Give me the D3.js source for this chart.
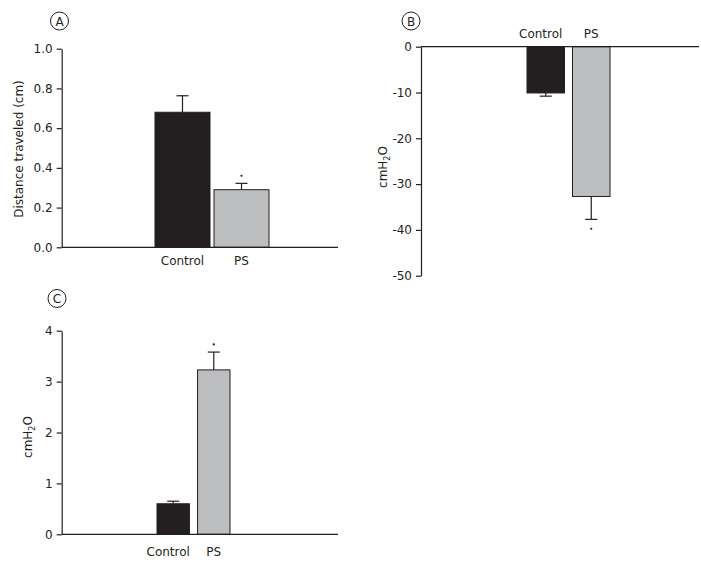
<!DOCTYPE html>
<html><head><meta charset="utf-8">
<script src="https://cdn.jsdelivr.net/npm/d3@7"></script>
<style>
html,body{margin:0;padding:0;background:#fff;}
svg{display:block;font-family:"DejaVu Sans",sans-serif;}
</style></head>
<body>
<svg id="chart" width="701" height="563"></svg>
<script>
// ---- data ----
const categories = ["Control", "PS"];
const distanceMeans = [0.68, 0.29];
const distanceErrors = [0.083, 0.032];
const pressureBMeans = [-10.1, -32.7];
const pressureBErrors = [0.7, 5.0];
const pressureCMeans = [0.6, 3.23];
const pressureCErrors = [0.05, 0.35];
const significant = [false, true];
const ticksA = [0, 0.2, 0.4, 0.6, 0.8, 1.0];
const tickLabelsA = ["0.0", "0.2", "0.4", "0.6", "0.8", "1.0"];
const ticksB = [0, -10, -20, -30, -40, -50];
const tickLabelsB = ["0", "-10", "-20", "-30", "-40", "-50"];
const ticksC = [0, 1, 2, 3, 4];
const tickLabelsC = ["0", "1", "2", "3", "4"];
const panelLetters = ["A", "B", "C"];

const ink = "#231f20";
const barFill = [ink, "#bcbec0"];

const svg = d3.select("#chart");

function drawPanel(cfg) {
  const g = svg.append("g");
  const y = d3.scaleLinear().domain(cfg.domain).range(cfg.yRange);
  const x = d3.scaleBand().domain(categories).range(cfg.barRange)
    .paddingInner(cfg.padInner).paddingOuter(0);

  // bars
  g.selectAll("rect.bar").data(cfg.means).join("rect")
    .attr("x", (d, i) => x(categories[i]))
    .attr("width", x.bandwidth())
    .attr("y", d => Math.min(y(0), y(d)))
    .attr("height", d => Math.abs(y(d) - y(0)))
    .attr("fill", (d, i) => barFill[i])
    .attr("stroke", ink).attr("stroke-width", 1);

  // error bars
  const cx = i => x(categories[i]) + x.bandwidth() / 2;
  const tip = (d, i) => d + Math.sign(d) * cfg.errors[i];
  g.selectAll("line.err").data(cfg.means).join("line")
    .attr("x1", (d, i) => cx(i)).attr("x2", (d, i) => cx(i))
    .attr("y1", d => y(d)).attr("y2", (d, i) => y(tip(d, i)))
    .attr("stroke", ink).attr("stroke-width", 1.2);
  g.selectAll("line.cap").data(cfg.means).join("line")
    .attr("x1", (d, i) => cx(i) - 6).attr("x2", (d, i) => cx(i) + 6)
    .attr("y1", (d, i) => y(tip(d, i))).attr("y2", (d, i) => y(tip(d, i)))
    .attr("stroke", ink).attr("stroke-width", 1.2);

  // significance dots
  g.selectAll("circle.sig").data(cfg.means.filter((d, i) => significant[i]).map((d) => ({d, i: cfg.means.indexOf(d)})))
    .join("circle")
    .attr("cx", o => cx(o.i))
    .attr("cy", o => y(tip(o.d, o.i)) - Math.sign(o.d) * cfg.dotOffset)
    .attr("r", 1.1).attr("fill", ink);

  // y axis
  const yAxis = d3.axisLeft(y).tickValues(cfg.ticks)
    .tickFormat((d, i) => cfg.tickLabels[i])
    .tickSize(5).tickSizeOuter(0).tickPadding(4);
  const ya = g.append("g").attr("transform", `translate(${cfg.axisX},0)`).call(yAxis);
  ya.selectAll("path,line").attr("stroke", ink).attr("stroke-width", 1.2);
  ya.selectAll("text").attr("fill", ink).style("font-size", "12px")
    .style("font-family", "'DejaVu Sans',sans-serif");

  // x axis (baseline)
  g.append("line").attr("x1", cfg.axisX).attr("x2", cfg.xEnd)
    .attr("y1", y(0)).attr("y2", y(0))
    .attr("stroke", ink).attr("stroke-width", 1.2);

  // category labels
  g.selectAll("text.cat").data(categories).join("text")
    .attr("x", (d, i) => cx(i) + cfg.catShift[i])
    .attr("y", y(0) + cfg.catDy)
    .attr("text-anchor", "middle").attr("fill", ink)
    .style("font-size", "12px").text(d => d);

  // y label
  const lab = g.append("text")
    .attr("transform", `translate(${cfg.labelX},${cfg.labelY}) rotate(-90)`)
    .attr("text-anchor", "middle").attr("fill", ink).style("font-size", "12px");
  if (cfg.label === "cmH2O") {
    lab.append("tspan").text("cmH");
    lab.append("tspan").text("2").style("font-size", "8px").attr("dy", 3);
    lab.append("tspan").text("O").attr("dy", -3);
  } else {
    lab.text(cfg.label);
  }

  // panel letter
  g.append("circle").attr("cx", cfg.letterX).attr("cy", cfg.letterY).attr("r", 9)
    .attr("fill", "none").attr("stroke", ink).attr("stroke-width", 1);
  g.append("text").attr("x", cfg.letterX).attr("y", cfg.letterY + 4.5)
    .attr("text-anchor", "middle").attr("fill", ink).style("font-size", "12px")
    .text(cfg.letter);
}

drawPanel({
  means: distanceMeans, errors: distanceErrors,
  domain: [0, 1], yRange: [247.3, 48.7],
  ticks: ticksA, tickLabels: tickLabelsA,
  barRange: [155, 269], padInner: 0.068,
  axisX: 61.7, xEnd: 338, catDy: 18, catShift: [0, 0],
  dotOffset: 7.6, label: "Distance traveled (cm)", labelX: 23, labelY: 149,
  letter: panelLetters[0], letterX: 59.5, letterY: 21
});
drawPanel({
  means: pressureBMeans, errors: pressureBErrors,
  domain: [0, -50], yRange: [46.7, 275.7],
  ticks: ticksB, tickLabels: tickLabelsB,
  barRange: [527, 610], padInner: 0.176,
  axisX: 421, xEnd: 699, catDy: -9, catShift: [-5, 0],
  dotOffset: 9.4, label: "cmH2O", labelX: 387, labelY: 167,
  letter: panelLetters[1], letterX: 411, letterY: 21
});
drawPanel({
  means: pressureCMeans, errors: pressureCErrors,
  domain: [0, 4], yRange: [534.3, 330.7],
  ticks: ticksC, tickLabels: tickLabelsC,
  barRange: [157, 230], padInner: 0.2,
  axisX: 61.7, xEnd: 338, catDy: 22, catShift: [-5, 0],
  dotOffset: 7.7, label: "cmH2O", labelX: 32, labelY: 437,
  letter: panelLetters[2], letterX: 57, letterY: 298.5
});
</script>
</body></html>
